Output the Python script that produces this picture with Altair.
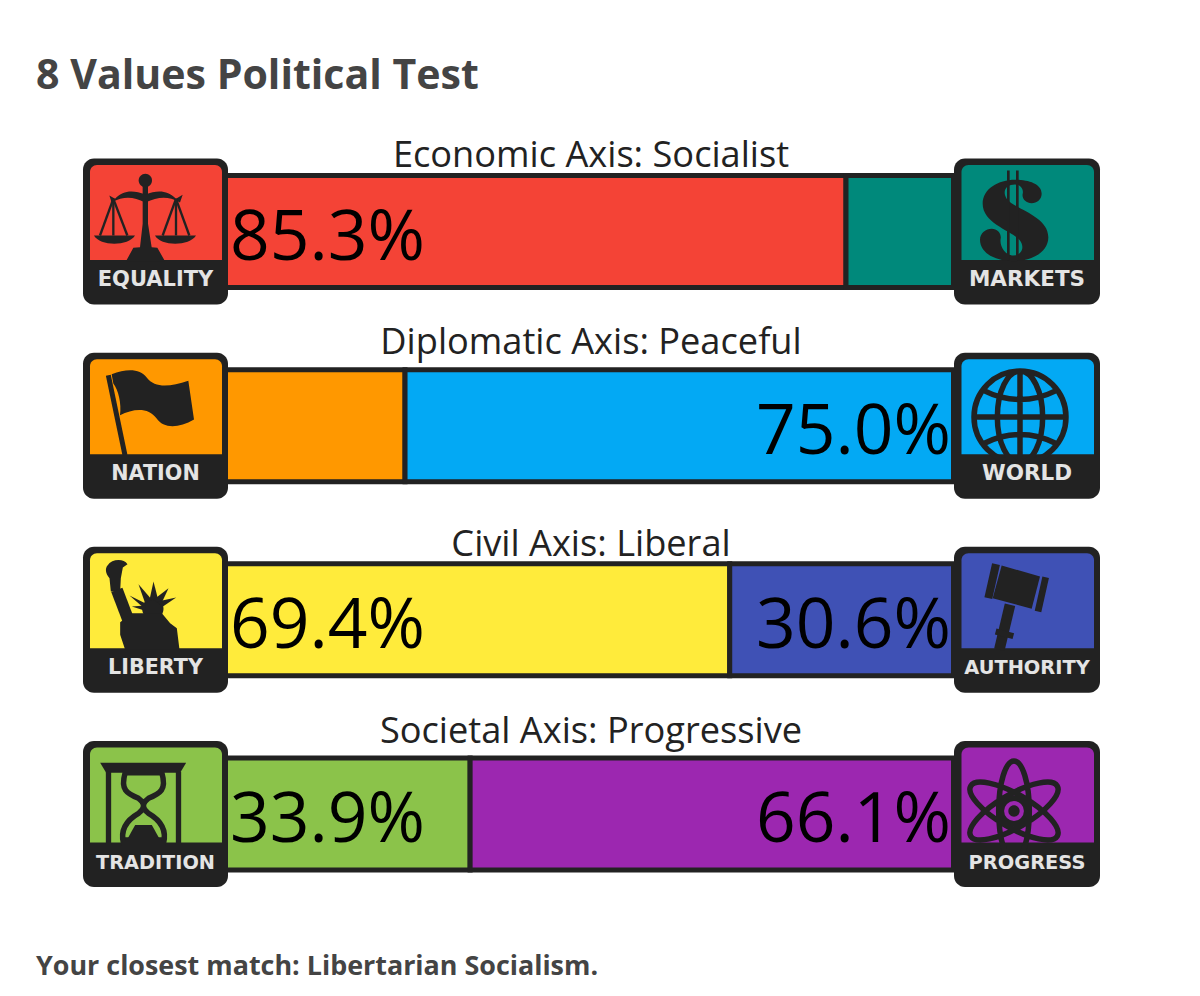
import math
import re
import altair as alt
import pandas as pd

# ---- values ----
axis_titles = ["Economic Axis: Socialist", "Diplomatic Axis: Peaceful", "Civil Axis: Liberal", "Societal Axis: Progressive"]
left_values = [85.3, 25.0, 69.4, 33.9]
right_values = [14.7, 75.0, 30.6, 66.1]
left_shown = ["85.3%", "", "69.4%", "33.9%"]
right_shown = ["", "75.0%", "30.6%", "66.1%"]
left_names = ["EQUALITY", "NATION", "LIBERTY", "TRADITION"]
right_names = ["MARKETS", "WORLD", "AUTHORITY", "PROGRESS"]
left_name_sizes = [21, 20.7, 20.7, 19.3]
right_name_sizes = [21.5, 21.5, 19.4, 19.4]
left_colors = ["#f44336", "#ff9800", "#ffeb3b", "#8bc34a"]
right_colors = ["#00897b", "#03a9f4", "#3f51b5", "#9c27b0"]
rows = [0, 1, 2, 3]
heading = "8 Values Political Test"
footer = "Your closest match: Libertarian Socialism."

DARK = "#222222"
ROW_PX = 194.17
PCT_PX = 7.313
X0_PX = 222.2


def pct(px):
    return (px - X0_PX) / PCT_PX


def ru(px):
    return px / ROW_PX


x_scale = alt.Scale(domain=[0, 100], range=[X0_PX - 8, X0_PX - 8 + 100 * PCT_PX], nice=False, zero=False, clamp=False)
y_scale = alt.Scale(domain=[0, 3], range=[231.5 - 8, 231.5 - 8 + 3 * ROW_PX], nice=False, zero=False, clamp=False)
X = lambda f: alt.X(f, type="quantitative", scale=x_scale, axis=None)
Y = lambda f: alt.Y(f, type="quantitative", scale=y_scale, axis=None)


# ---- icon glyph helpers (written in a 3x-crop pixel space, then normalised) ----
def circle(cx, cy, r):
    k = 0.5523 * r
    return (f"M{cx-r},{cy} C{cx-r},{cy-k} {cx-k},{cy-r} {cx},{cy-r} C{cx+k},{cy-r} {cx+r},{cy-k} {cx+r},{cy} "
            f"C{cx+r},{cy+k} {cx+k},{cy+r} {cx},{cy+r} C{cx-k},{cy+r} {cx-r},{cy+k} {cx-r},{cy} Z ")


def ellipse(cx, cy, rx, ry, deg=0):
    k = 0.5523
    a = math.radians(deg)
    pts = [(-rx, 0), (-rx, -k*ry), (-k*rx, -ry), (0, -ry), (k*rx, -ry), (rx, -k*ry), (rx, 0),
           (rx, k*ry), (k*rx, ry), (0, ry), (-k*rx, ry), (-rx, k*ry), (-rx, 0)]
    p = [(cx + x*math.cos(a) - y*math.sin(a), cy + x*math.sin(a) + y*math.cos(a)) for x, y in pts]
    s = f"M{p[0][0]:.1f},{p[0][1]:.1f} "
    for i in range(1, 13, 3):
        s += f"C{p[i][0]:.1f},{p[i][1]:.1f} {p[i+1][0]:.1f},{p[i+1][1]:.1f} {p[i+2][0]:.1f},{p[i+2][1]:.1f} "
    return s + "Z "


def bar(x1, y1, x2, y2, w):
    d = math.hypot(x2-x1, y2-y1)
    nx, ny = -(y2-y1)/d*w/2, (x2-x1)/d*w/2
    return (f"M{x1+nx:.1f},{y1+ny:.1f} L{x2+nx:.1f},{y2+ny:.1f} L{x2-nx:.1f},{y2-ny:.1f} L{x1-nx:.1f},{y1-ny:.1f} Z ")


def tri(x, y, bx1, by1, bx2, by2):
    return f"M{x},{y} L{bx1},{by1} L{bx2},{by2} Z "


def norm(path, cx, cy):
    """Normalise to the -1..1 box of a custom symbol; 1 unit = 180 crop px = 60 page px."""
    def repl(m):
        return f"{(float(m.group(1))-cx)/180:.4f},{(float(m.group(2))-cy)/180:.4f}"
    return re.sub(r"(-?\d+(?:\.\d+)?),(-?\d+(?:\.\d+)?)", repl, path)


def parts(path, cx, cy):
    """One symbol per subpath, so that overlapping pieces never cancel by winding."""
    return [norm("M" + p.strip(), cx, cy) for p in path.split("M") if p.strip()]


scales = (circle(226, 150, 20) +
          "M218,165 L234,165 L234,280 L245,350 L262,352 L285,392 L168,392 L190,352 L210,350 L218,280 Z " +
          "M118,195 L135,205 C160,178 190,178 226,192 C262,178 292,178 318,205 L338,193 L330,216 C290,195 265,200 226,216 C190,200 165,195 125,216 Z " +
          "M72,315 L195,315 C175,348 90,348 72,315 Z M255,315 L378,315 C358,348 272,348 255,315 Z " +
          bar(130, 205, 90, 315, 7) + bar(130, 205, 172, 315, 7) + bar(130, 205, 130, 315, 7) +
          bar(318, 205, 278, 315, 7) + bar(318, 205, 358, 315, 7) + bar(318, 205, 318, 315, 7))
dollar = ("M345,118 C385,118 425,130 425,160 C425,178 410,188 395,188 C378,188 365,175 368,160 C372,145 360,132 345,132 "
          "C320,132 305,150 320,175 C340,205 445,225 445,290 C445,335 395,362 340,362 C290,362 240,340 240,298 "
          "C240,278 258,265 275,265 C292,265 305,280 302,295 C298,315 315,345 340,345 C365,345 375,320 360,300 "
          "C335,270 248,250 248,190 C248,145 295,118 345,118 Z " +
          bar(325, 90, 325, 360, 8) + bar(352, 90, 352, 360, 8))
flag = ("M125,102 C170,85 210,85 230,112 C255,145 300,140 355,122 L372,238 C325,265 280,265 260,235 "
        "C235,200 190,205 150,225 C155,190 145,150 130,130 Z " + bar(115, 105, 165, 345, 15))
liberty = ("M122,170 L118,130 C105,115 105,100 112,92 C125,72 160,70 172,88 L158,98 L152,130 L150,170 Z " +
           bar(140, 165, 178, 265, 36) + circle(248, 222, 32) +
           "M150,262 L185,235 L275,235 L300,265 L320,280 L328,345 L165,345 L150,300 Z " +
           tri(205, 148, 225, 205, 245, 195) + tri(250, 140, 238, 195, 264, 195) + tri(295, 160, 250, 195, 272, 210) +
           tri(318, 188, 262, 200, 275, 217) + tri(178, 182, 225, 205, 222, 220) + tri(185, 215, 225, 212, 225, 228))
gavel = ("M305,92 L420,125 L395,222 L278,190 Z " + bar(288, 88, 265, 190, 24) + bar(437, 127, 414, 230, 20) +
         bar(330, 210, 298, 345, 32) + bar(287, 290, 340, 304, 18))
hourbase = ("M90,98 L348,98 L330,128 L108,128 Z " + bar(115, 125, 115, 345, 16) + bar(325, 125, 325, 345, 16) +
            "M155,322 L285,322 L285,345 L155,345 Z M195,285 L245,285 L270,330 L170,330 Z")
hourline = ("M165,128 C150,180 170,190 205,205 C225,220 225,235 205,250 C170,270 150,300 160,340 L280,340 "
            "C290,300 270,270 235,250 C215,235 215,220 235,205 C270,190 290,180 275,128 Z")
globe = (circle(360, 230, 138) + ellipse(360, 230, 68, 138) + "M360,92 L360,368 M222,230 L498,230 "
         "M250,150 Q360,205 470,150 M250,310 Q360,255 470,310")
atom = (ellipse(342, 243, 46, 150) + ellipse(342, 243, 150, 50, 30) + ellipse(342, 243, 150, 50, -30) + circle(342, 243, 38))
nucleus = circle(342, 243, 17)

filled_glyphs = [(scales, 0, 0, 256.5, 303), (dollar, 0, 1, 381, 273), (flag, 1, 0, 256.5, 256.5), (gavel, 2, 1, 381, 255),
                 (liberty, 2, 0, 256, 255), (hourbase, 3, 0, 256, 252), (nucleus, 3, 1, 381, 252)]
CX = [pct(155.5), pct(1027)]
fi_rows = []
for path, row, side, cx, cy in filled_glyphs:
    for p in parts(path, cx, cy):
        fi_rows.append({"s": p, "x": CX[side], "y": row})
fi = pd.DataFrame(fi_rows)
ou = pd.DataFrame({
    "s": [norm(globe, 381, 256), norm(hourline, 256, 252), norm(atom, 381, 252)],
    "x": [CX[1], CX[0], CX[1]],
    "y": [1, 3, 3],
})

# ---- tables ----
seg = pd.DataFrame({
    "a": [0] * 4 + [v for v in left_values],
    "b": left_values + [100] * 4,
    "color": left_colors + right_colors,
    "y": [r - ru(56) for r in rows] * 2,
    "y2": [r + ru(56) for r in rows] * 2,
})
box = pd.DataFrame({
    "a": [pct(83)] * 4 + [pct(954)] * 4,
    "b": [pct(228)] * 4 + [pct(1100)] * 4,
    "y": [r - ru(73) for r in rows] * 2,
    "y2": [r + ru(73) for r in rows] * 2,
})
inner = pd.DataFrame({
    "a": [pct(90)] * 4 + [pct(961.5)] * 4,
    "b": [pct(222)] * 4 + [pct(1094)] * 4,
    "y": [r - ru(66.5) for r in rows] * 2,
    "y2": [r + ru(28.5) for r in rows] * 2,
    "color": left_colors + right_colors,
})
title_off = [-64.5, -71.7, -64.0, -71.0]
titles = pd.DataFrame({"t": axis_titles, "x": [pct(591)] * 4, "y": [r + ru(o) for r, o in zip(rows, title_off)]})
names = pd.DataFrame({
    "t": left_names + right_names,
    "fs": left_name_sizes + right_name_sizes,
    "x": [pct(155.5)] * 4 + [pct(1027)] * 4,
    "y": [r + ru(48.5) for r in rows] * 2,
})
lv = pd.DataFrame({"t": left_shown, "x": [pct(230)] * 4, "y": [r + ru(7) for r in rows]})
rv = pd.DataFrame({"t": right_shown, "x": [pct(951)] * 4, "y": [r + ru(7) for r in rows]})

# ---- layers ----
bars = alt.Chart(seg).mark_rect(stroke=DARK, strokeWidth=5).encode(
    x=X("a"), x2="b", y=Y("y"), y2="y2", fill=alt.Fill("color:N", scale=None))
outer = alt.Chart(box).mark_rect(fill=DARK, cornerRadius=11).encode(x=X("a"), x2="b", y=Y("y"), y2="y2")
colored = alt.Chart(inner).mark_rect(cornerRadiusTopLeft=7, cornerRadiusTopRight=7).encode(
    x=X("a"), x2="b", y=Y("y"), y2="y2", fill=alt.Fill("color:N", scale=None))
glyphs = alt.Chart(fi).mark_point(filled=True, opacity=1, strokeWidth=0, fill=DARK).encode(
    x=X("x"), y=Y("y"), shape=alt.Shape("s:N", scale=None, legend=None), size=alt.value(14400))
rings = alt.Chart(ou).mark_point(filled=False, opacity=1, stroke=DARK, strokeWidth=5.5).encode(
    x=X("x"), y=Y("y"), shape=alt.Shape("s:N", scale=None, legend=None), size=alt.value(14400))
name_text = alt.Chart(names).mark_text(font="DejaVu Sans", fontWeight=700, color="#e4e4e4", baseline="middle").encode(
    x=X("x"), y=Y("y"), text="t:N", size=alt.Size("fs:Q", scale=None, legend=None))
title_text = alt.Chart(titles).mark_text(font="Open Sans", fontSize=36.2, color="#222222", baseline="alphabetic").encode(
    x=X("x"), y=Y("y"), text="t:N")
lv_text = alt.Chart(lv).mark_text(font="Open Sans", fontSize=69.5, color="#000000", align="left", baseline="middle").encode(
    x=X("x"), y=Y("y"), text="t:N")
rv_text = alt.Chart(rv).mark_text(font="Open Sans", fontSize=69.5, color="#000000", align="right", baseline="middle").encode(
    x=X("x"), y=Y("y"), text="t:N")
head = alt.Chart(pd.DataFrame({"t": [heading]})).mark_text(
    font="Open Sans", fontWeight=700, fontSize=41.1, color="#444444", align="left", baseline="alphabetic"
).encode(x=alt.value(28), y=alt.value(81), text="t:N")
foot = alt.Chart(pd.DataFrame({"t": [footer]})).mark_text(
    font="Open Sans", fontWeight=700, fontSize=26.9, color="#444444", align="left", baseline="alphabetic"
).encode(x=alt.value(28), y=alt.value(967), text="t:N")

chart = alt.layer(bars, outer, colored, glyphs, rings, name_text, title_text, lv_text, rv_text, head, foot).properties(
    width=1184, height=980, padding=0, background="#ffffff", autosize=alt.AutoSizeParams(type="none")
).configure_view(stroke=None)

chart.save("out.html", embed_options={"renderer": "svg", "actions": False})
